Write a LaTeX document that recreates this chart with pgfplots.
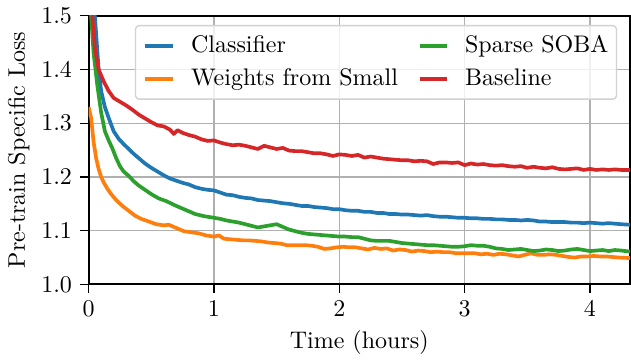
\documentclass[border=0pt]{standalone}
\usepackage{pgfplots}
\pgfplotsset{compat=1.18}
\definecolor{tabblue}{HTML}{1F77B4}
\definecolor{taborange}{HTML}{FF7F0E}
\definecolor{tabgreen}{HTML}{2CA02C}
\definecolor{tabred}{HTML}{D62728}
\definecolor{gridgray}{HTML}{B0B0B0}
\begin{document}
\begin{tikzpicture}
\begin{axis}[
  scale only axis,
  width=225.5pt, height=111.9pt,
  xmin=0, xmax=4.32, ymin=1.0, ymax=1.5,
  xtick={0,1,2,3,4},
  ytick={1.0,1.1,1.2,1.3,1.4,1.5},
  yticklabel style={/pgf/number format/fixed,/pgf/number format/fixed zerofill,/pgf/number format/precision=1},
  grid=major,
  major grid style={gridgray, line width=0.57pt},
  tick align=outside,
  major tick length=3.4pt,
  tick style={black, line width=0.57pt},
  xtick pos=bottom, ytick pos=left,
  axis line style={line width=0.77pt},
  xlabel={Time (hours)},
  ylabel={Pre-train Specific Loss},
  xlabel style={yshift=1pt},
  ylabel style={yshift=-2pt},
  legend columns=2,
  transpose legend,
  legend cell align=left,
  legend style={at={(0.975,0.963)}, anchor=north east, draw=gray!35, line width=0.57pt,
    rounded corners=1.5pt, fill=white, fill opacity=0.8, text opacity=1, outer sep=0pt,
    inner xsep=3.4pt, inner ysep=4pt, row sep=5.4pt,
    nodes={inner sep=0pt},
    /tikz/every odd column/.append style={column sep=6.6pt},
    /tikz/every even column/.append style={column sep=8.2pt}},
  legend image code/.code={\draw[#1, line width=1.53pt] (0pt,0pt) -- (11.6pt,0pt);},
  every axis plot/.append style={line width=1.53pt, line join=round},
  clip=true,
]
\addplot[tabblue] table {
0.0 1.75
0.05 1.50
0.08 1.40
0.10 1.36
0.13 1.33
0.16 1.31
0.20 1.285
0.24 1.271
0.28 1.261
0.32 1.252
0.36 1.243
0.40 1.235
0.45 1.225
0.50 1.217
0.55 1.210
0.60 1.203
0.65 1.197
0.70 1.193
0.75 1.189
0.80 1.186
0.85 1.181
0.90 1.178
0.95 1.176
1.00 1.175
1.05 1.171
1.10 1.167
1.15 1.166
1.20 1.163
1.25 1.161
1.30 1.160
1.35 1.157
1.40 1.156
1.45 1.155
1.50 1.153
1.55 1.151
1.60 1.150
1.65 1.148
1.70 1.146
1.75 1.146
1.80 1.144
1.85 1.143
1.90 1.142
1.95 1.140
2.00 1.140
2.05 1.138
2.10 1.137
2.15 1.137
2.20 1.135
2.25 1.135
2.30 1.133
2.35 1.133
2.40 1.131
2.45 1.131
2.50 1.130
2.55 1.130
2.60 1.129
2.65 1.128
2.70 1.129
2.75 1.127
2.80 1.126
2.85 1.126
2.90 1.125
2.95 1.124
3.00 1.124
3.05 1.123
3.10 1.123
3.15 1.122
3.20 1.122
3.25 1.121
3.30 1.121
3.35 1.120
3.40 1.120
3.45 1.119
3.50 1.120
3.55 1.119
3.60 1.117
3.65 1.117
3.70 1.116
3.75 1.116
3.80 1.116
3.85 1.115
3.90 1.115
3.95 1.114
4.00 1.115
4.05 1.114
4.10 1.113
4.15 1.114
4.20 1.113
4.25 1.112
4.32 1.111
};
\addlegendentry{Classifier}
\addplot[taborange] table {
0.0 1.33
0.02 1.31
0.04 1.265
0.06 1.235
0.08 1.215
0.10 1.200
0.12 1.190
0.15 1.178
0.18 1.168
0.22 1.157
0.27 1.146
0.32 1.137
0.37 1.128
0.42 1.122
0.48 1.117
0.54 1.112
0.60 1.110
0.64 1.111
0.70 1.105
0.76 1.099
0.82 1.097
0.88 1.095
0.94 1.091
1.00 1.089
1.04 1.091
1.08 1.085
1.13 1.084
1.18 1.083
1.23 1.082
1.28 1.082
1.33 1.081
1.38 1.080
1.43 1.078
1.48 1.077
1.53 1.076
1.58 1.073
1.63 1.073
1.68 1.073
1.73 1.073
1.78 1.072
1.83 1.070
1.88 1.066
1.93 1.067
1.98 1.069
2.03 1.070
2.08 1.069
2.13 1.069
2.18 1.067
2.23 1.065
2.28 1.068
2.33 1.066
2.38 1.067
2.43 1.063
2.48 1.065
2.53 1.064
2.58 1.061
2.63 1.063
2.68 1.062
2.73 1.060
2.78 1.061
2.83 1.060
2.88 1.060
2.93 1.058
2.98 1.058
3.03 1.058
3.08 1.058
3.13 1.056
3.18 1.057
3.23 1.055
3.28 1.057
3.33 1.056
3.38 1.054
3.43 1.052
3.48 1.055
3.53 1.058
3.58 1.055
3.63 1.055
3.68 1.056
3.73 1.055
3.78 1.053
3.83 1.051
3.88 1.050
3.93 1.052
3.98 1.052
4.03 1.053
4.08 1.052
4.13 1.052
4.18 1.051
4.23 1.050
4.32 1.049
};
\addlegendentry{Weights from Small}
\addplot[tabgreen] table {
0.0 1.62
0.02 1.50
0.04 1.43
0.07 1.37
0.10 1.32
0.13 1.285
0.16 1.268
0.19 1.253
0.22 1.235
0.25 1.220
0.28 1.210
0.32 1.202
0.36 1.192
0.40 1.184
0.45 1.176
0.50 1.168
0.56 1.160
0.62 1.155
0.69 1.147
0.75 1.141
0.80 1.136
0.85 1.131
0.92 1.127
1.00 1.124
1.05 1.122
1.10 1.119
1.15 1.117
1.20 1.115
1.25 1.112
1.30 1.109
1.35 1.106
1.40 1.108
1.45 1.110
1.50 1.112
1.55 1.107
1.60 1.102
1.65 1.099
1.70 1.096
1.75 1.094
1.80 1.093
1.85 1.092
1.90 1.091
1.95 1.090
2.00 1.089
2.05 1.089
2.10 1.088
2.15 1.088
2.20 1.085
2.25 1.082
2.30 1.081
2.35 1.081
2.40 1.081
2.45 1.079
2.50 1.077
2.55 1.076
2.60 1.075
2.65 1.074
2.70 1.073
2.75 1.073
2.80 1.072
2.85 1.071
2.90 1.070
2.95 1.070
3.00 1.071
3.05 1.073
3.10 1.072
3.15 1.072
3.20 1.070
3.25 1.067
3.30 1.066
3.35 1.064
3.40 1.065
3.45 1.066
3.50 1.064
3.55 1.062
3.60 1.063
3.65 1.065
3.70 1.064
3.75 1.062
3.80 1.063
3.85 1.065
3.90 1.066
3.95 1.064
4.00 1.062
4.05 1.063
4.10 1.064
4.15 1.062
4.20 1.064
4.25 1.063
4.32 1.061
};
\addlegendentry{Sparse SOBA}
\addplot[tabred] table {
0.0 1.62
0.03 1.50
0.05 1.44
0.08 1.40
0.12 1.378
0.16 1.360
0.20 1.347
0.25 1.340
0.30 1.333
0.35 1.325
0.40 1.316
0.45 1.309
0.50 1.302
0.55 1.296
0.60 1.294
0.65 1.288
0.68 1.280
0.71 1.287
0.75 1.282
0.80 1.278
0.85 1.275
0.90 1.270
0.95 1.267
1.00 1.268
1.05 1.264
1.10 1.261
1.15 1.259
1.20 1.260
1.25 1.258
1.30 1.255
1.35 1.252
1.40 1.258
1.45 1.255
1.50 1.252
1.55 1.254
1.60 1.249
1.65 1.248
1.70 1.248
1.75 1.246
1.80 1.244
1.85 1.244
1.90 1.242
1.95 1.239
2.00 1.242
2.05 1.241
2.10 1.239
2.15 1.241
2.20 1.236
2.25 1.238
2.30 1.236
2.35 1.234
2.40 1.233
2.45 1.232
2.50 1.231
2.55 1.231
2.60 1.229
2.65 1.230
2.70 1.229
2.75 1.224
2.80 1.227
2.85 1.227
2.90 1.226
2.95 1.227
3.00 1.222
3.05 1.225
3.10 1.223
3.15 1.224
3.20 1.222
3.25 1.221
3.30 1.222
3.35 1.220
3.40 1.219
3.45 1.220
3.50 1.217
3.55 1.219
3.60 1.217
3.65 1.216
3.70 1.218
3.75 1.215
3.80 1.214
3.85 1.215
3.90 1.216
3.95 1.213
4.00 1.215
4.05 1.213
4.10 1.214
4.15 1.213
4.20 1.214
4.25 1.213
4.32 1.213
};
\addlegendentry{Baseline}
\end{axis}
\path[use as bounding box] (current axis.south west) ++(-36.6pt,-30.4pt) rectangle ++(262.5pt,147.3pt);
\end{tikzpicture}
\end{document}
